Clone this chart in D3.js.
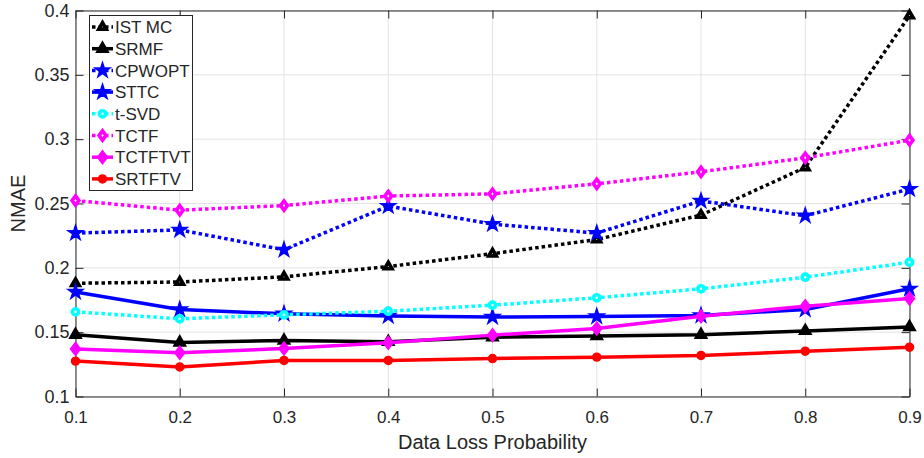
<!DOCTYPE html>
<html>
<head>
<meta charset="utf-8">
<script src="https://cdn.jsdelivr.net/npm/d3@7"></script>
<style>
  body { margin: 0; background: #fff; }
  svg { display: block; }
  text { font-family: "Liberation Sans", Arial, sans-serif; fill: #262626; }
</style>
</head>
<body>
<svg id="chart" width="924" height="458"></svg>
<script>
// ---- data ----
const xValues = [0.1, 0.2, 0.3, 0.4, 0.5, 0.6, 0.7, 0.8, 0.9];
const xTicks = [0.1, 0.2, 0.3, 0.4, 0.5, 0.6, 0.7, 0.8, 0.9];
const yTicks = [0.1, 0.15, 0.2, 0.25, 0.3, 0.35, 0.4];
const seriesNames = ["IST MC", "SRMF", "CPWOPT", "STTC", "t-SVD", "TCTF", "TCTFTVT", "SRTFTV"];
const istmc   = [0.188, 0.189, 0.193, 0.201, 0.211, 0.222, 0.241, 0.278, 0.396];
const srmf    = [0.148, 0.142, 0.1435, 0.1425, 0.146, 0.147, 0.148, 0.151, 0.154];
const cpwopt  = [0.227, 0.2295, 0.214, 0.248, 0.234, 0.227, 0.252, 0.2405, 0.2612];
const sttc    = [0.1812, 0.1676, 0.1643, 0.1626, 0.1618, 0.1622, 0.163, 0.1676, 0.1837];
const tsvd    = [0.1658, 0.1604, 0.1635, 0.1663, 0.171, 0.1767, 0.1837, 0.1927, 0.2044];
const tctf    = [0.2523, 0.2448, 0.2484, 0.2558, 0.2575, 0.2653, 0.2746, 0.2855, 0.2992];
const tctftvt = [0.137, 0.134, 0.1373, 0.1417, 0.1477, 0.1528, 0.1624, 0.1702, 0.1762];
const srtftv  = [0.1275, 0.123, 0.128, 0.128, 0.1295, 0.1306, 0.1319, 0.1352, 0.1383];

const seriesValues = [istmc, srmf, cpwopt, sttc, tsvd, tctf, tctftvt, srtftv];
const seriesColor = ["#000000", "#000000", "#0000ff", "#0000ff", "#00ffff", "#ff00ff", "#ff00ff", "#ff0000"];
const seriesDotted = [true, false, true, false, true, true, false, false];
const seriesMarker = ["triangle", "triangle", "star", "star", "circle", "diamond", "diamond", "circle"];
const seriesFilled = [false, true, true, true, false, false, true, true];

// ---- layout ----
const L = 75.5, R = 909.5, T = 10.5, B = 396.5;
const svg = d3.select("#chart");
const x = d3.scaleLinear().domain([0.1, 0.9]).range([L, R]);
const y = d3.scaleLinear().domain([0.1, 0.4]).range([B, T]);

// grid
const grid = svg.append("g");
grid.selectAll("line.gx").data(xTicks).enter().append("line")
  .attr("x1", d => x(d)).attr("x2", d => x(d)).attr("y1", T).attr("y2", B)
  .attr("stroke", "#e3e3e3").attr("stroke-width", 1);
grid.selectAll("line.gy").data(yTicks).enter().append("line")
  .attr("y1", d => y(d)).attr("y2", d => y(d)).attr("x1", L).attr("x2", R)
  .attr("stroke", "#e3e3e3").attr("stroke-width", 1);

// axes
function styleAxis(g) {
  g.selectAll("path.domain").attr("stroke", "#262626").attr("stroke-width", 1);
  g.selectAll(".tick line").attr("stroke", "#262626").attr("stroke-width", 1);
  g.selectAll("text").attr("fill", "#262626").attr("font-family", "Liberation Sans, Arial, sans-serif");
}
const fmt = d => String(+d.toFixed(2));
svg.append("g").attr("transform", `translate(0,${B})`)
  .call(d3.axisBottom(x).tickValues(xTicks).tickFormat(fmt).tickSizeInner(-8).tickSizeOuter(0).tickPadding(14))
  .call(g => g.selectAll("text").attr("font-size", 17))
  .call(styleAxis);
svg.append("g").attr("transform", `translate(0,${T})`)
  .call(d3.axisTop(x).tickValues(xTicks).tickFormat("").tickSizeInner(-8).tickSizeOuter(0))
  .call(styleAxis);
svg.append("g").attr("transform", `translate(${L},0)`)
  .call(d3.axisLeft(y).tickValues(yTicks).tickFormat(fmt).tickSizeInner(-8).tickSizeOuter(0).tickPadding(6))
  .call(g => g.selectAll("text").attr("font-size", 18))
  .call(styleAxis);
svg.append("g").attr("transform", `translate(${R},0)`)
  .call(d3.axisRight(y).tickValues(yTicks).tickFormat("").tickSizeInner(-8).tickSizeOuter(0))
  .call(styleAxis);

// axis labels
svg.append("text").attr("x", (L + R) / 2).attr("y", 449).attr("text-anchor", "middle")
  .attr("font-size", 20).text("Data Loss Probability");
svg.append("text").attr("transform", `translate(25,${(T + B) / 2}) rotate(-90)`)
  .attr("text-anchor", "middle").attr("font-size", 20).text("NMAE");

// markers
function markerPath(kind, filled) {
  if (kind === "triangle") return d3.symbol().type(d3.symbolTriangle).size(filled ? 62 : 24)();
  if (kind === "star") return d3.symbol().type(d3.symbolStar).size(68)();
  if (kind === "circle") return d3.symbol().type(d3.symbolCircle).size(filled ? 50 : 30)();
  if (kind === "diamond") return filled ? "M0,-6.5L5,0L0,6.5L-5,0Z" : "M0,-4.6L3.4,0L0,4.6L-3.4,0Z";
}
function drawMarker(g, kind, color, filled, cx, cy) {
  g.append("path").attr("d", markerPath(kind, filled))
    .attr("transform", `translate(${cx},${cy})`)
    .attr("fill", filled ? color : "#ffffff")
    .attr("stroke", color)
    .attr("stroke-width", filled ? 1.5 : 3.6)
    .attr("stroke-linejoin", "miter");
}

const line = d3.line().x((d, i) => x(xValues[i])).y(d => y(d));
seriesValues.forEach((vals, k) => {
  const g = svg.append("g");
  g.append("path").datum(vals).attr("d", line)
    .attr("fill", "none").attr("stroke", seriesColor[k]).attr("stroke-width", 3.5)
    .attr("stroke-dasharray", seriesDotted[k] ? "3.5,3" : null)
    .attr("stroke-linejoin", "round");
  vals.forEach((v, i) => drawMarker(g, seriesMarker[k], seriesColor[k], seriesFilled[k], x(xValues[i]), y(v)));
});

// legend
const lg = svg.append("g");
lg.append("rect").attr("x", 89.5).attr("y", 15.5).attr("width", 103).attr("height", 175)
  .attr("fill", "#ffffff").attr("stroke", "#262626").attr("stroke-width", 1);
seriesNames.forEach((name, k) => {
  const cy = 27 + k * 21.7;
  lg.append("line").attr("x1", 92).attr("x2", 113).attr("y1", cy).attr("y2", cy)
    .attr("stroke", seriesColor[k]).attr("stroke-width", 3.5)
    .attr("stroke-dasharray", seriesDotted[k] ? "3.5,3" : null);
  drawMarker(lg, seriesMarker[k], seriesColor[k], seriesFilled[k], 102.5, cy);
  lg.append("text").attr("x", 115).attr("y", cy).attr("dy", "0.36em")
    .attr("font-size", 17).text(name);
});
</script>
</body>
</html>
